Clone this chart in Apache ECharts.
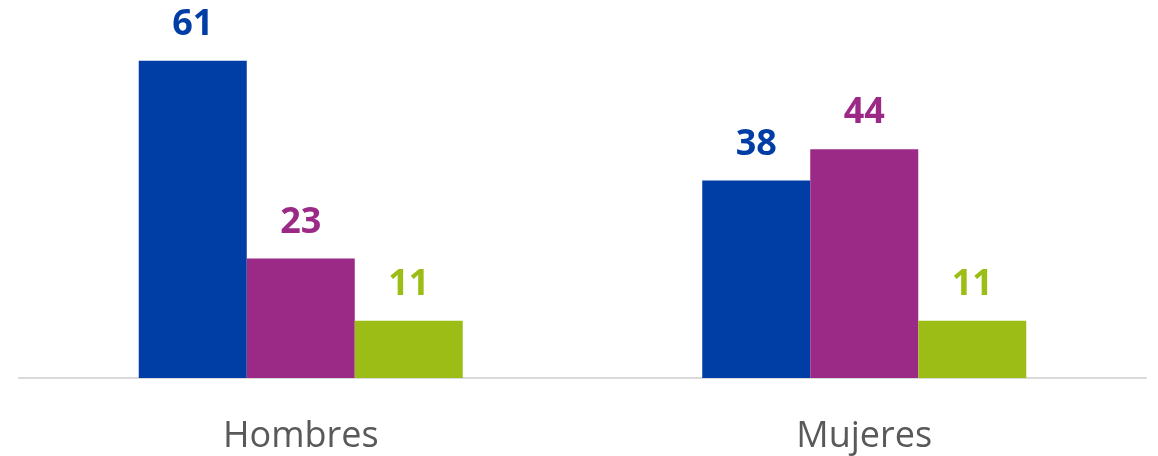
<!DOCTYPE html>
<html><head><meta charset="utf-8">
<script src="https://cdn.jsdelivr.net/npm/echarts@6/dist/echarts.min.js"></script>
<style>html,body{margin:0;padding:0;background:#fff}#c{width:1158px;height:456px}</style>
</head><body><div id="c"></div>
<script>
const categories = ["Hombres", "Mujeres"];
const serie1 = [61, 38];
const serie2 = [23, 44];
const serie3 = [11, 11];
const colors = ["#003DA5", "#9B2A87", "#9BBD15"];

const chart = echarts.init(document.getElementById('c'));
function mk(data, color) {
  return {
    type: 'bar', data: data, barGap: '0%', barCategoryGap: '42.5%',
    itemStyle: { color: color },
    label: { show: true, position: 'top', distance: 18, color: color,
      fontFamily: 'Open Sans', fontWeight: 'bold', fontSize: 36 }
  };
}
chart.setOption({
  animation: false,
  grid: { left: 19, right: 12, top: 14, bottom: 78 },
  xAxis: { type: 'category', data: categories,
    axisLine: { lineStyle: { color: '#d9d9d9', width: 2 } },
    axisTick: { show: false },
    axisLabel: { color: '#595959', fontFamily: 'Open Sans', fontSize: 36, margin: 41 } },
  yAxis: { type: 'value', min: 0, max: 70, show: false, splitLine: { show: false } },
  series: [mk(serie1, colors[0]), mk(serie2, colors[1]), mk(serie3, colors[2])]
});
</script></body></html>
